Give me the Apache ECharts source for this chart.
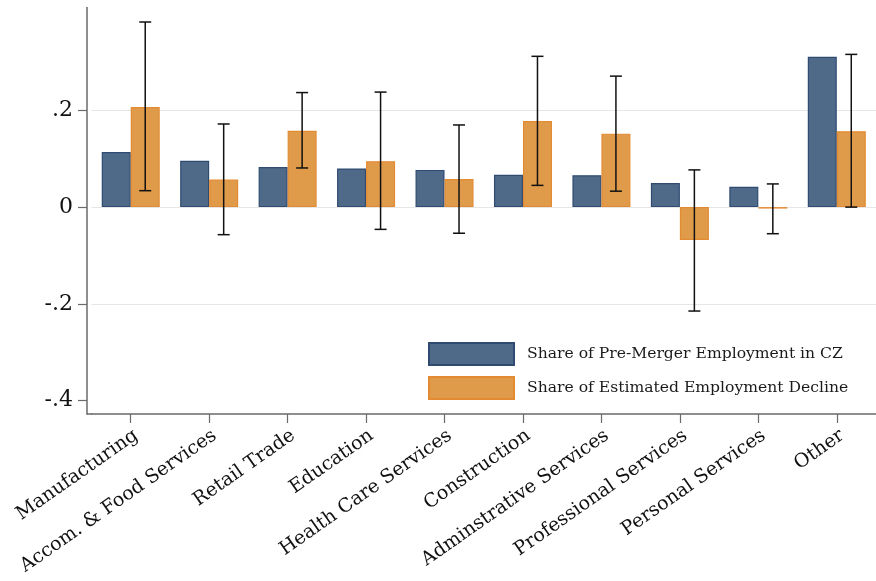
<!DOCTYPE html>
<html><head><meta charset="utf-8">
<script src="https://cdn.jsdelivr.net/npm/echarts@6/dist/echarts.min.js"></script>
<style>html,body{margin:0;padding:0;background:#fff}#c{width:876px;height:581px}</style>
</head><body><div id="c"></div>
<script>
const categories = ['Manufacturing','Accom. & Food Services','Retail Trade','Education','Health Care Services','Construction','Adminstrative Services','Professional Services','Personal Services','Other'];
const preMergerShare = [0.114,0.096,0.083,0.080,0.077,0.067,0.066,0.050,0.042,0.311];
const declineShare = [0.207,0.057,0.158,0.095,0.058,0.178,0.152,-0.068,-0.003,0.157];
const ciLow = [0.034,-0.057,0.081,-0.046,-0.054,0.045,0.033,-0.215,-0.055,0.000];
const ciHigh = [0.383,0.172,0.237,0.238,0.170,0.312,0.271,0.077,0.048,0.316];
const yTicks = [-0.4,-0.2,0,0.2];
const gridValues = [-0.2,0,0.2];
const seriesNames = ['Share of Pre-Merger Employment in CZ','Share of Estimated Employment Decline'];

const FONT = 'DejaVu Serif';
const BW = 29;
const chart = echarts.init(document.getElementById('c'));
const fmt = v => { if (Math.abs(v) < 1e-9) return '0'; let s = String(Math.round(v*10)/10); return s.replace('0.', '.'); };

chart.setOption({
  animation: false,
  grid: { left: 91.5, right: -4.4, top: 7.5, bottom: 167, containLabel: false },
  graphic: [{ type: 'line', shape: { x1: 86.5, y1: 414, x2: 92, y2: 414 }, style: { stroke: '#6a6a6a', lineWidth: 1.5 }, silent: true }],
  legend: {
    orient: 'vertical', left: 428, top: 342, itemWidth: 85, itemHeight: 22, itemGap: 10, padding: 0,
    icon: 'rect',
    textStyle: { fontFamily: FONT, fontSize: 15.6, color: '#1a1a1a', padding: [0,0,0,8] },
    data: seriesNames
  },
  xAxis: {
    type: 'category', data: categories, boundaryGap: true,
    axisLine: { show: true, onZero: false, lineStyle: { color: '#6a6a6a', width: 1.5 } },
    axisTick: { show: true, alignWithLabel: true, length: 9, lineStyle: { color: '#6a6a6a', width: 1.2 } },
    axisLabel: { rotate: 35, interval: 0, margin: 12, verticalAlign: 'top', fontFamily: FONT, fontSize: 19, color: '#111' },
    splitLine: { show: false }
  },
  yAxis: {
    type: 'value', min: -0.428, max: 0.413, offset: 4.5,
    axisLine: { show: true, onZero: false, lineStyle: { color: '#6a6a6a', width: 1.5 } },
    axisTick: { show: true, length: 9, customValues: yTicks, lineStyle: { color: '#6a6a6a', width: 1.2 } },
    axisLabel: { customValues: yTicks, formatter: fmt, margin: 14, fontFamily: FONT, fontSize: 22, color: '#111' },
    splitLine: { show: false }
  },
  series: [
    {
      type: 'line', name: 'grid', data: [], z: 1, silent: true,
      markLine: {
        silent: true, symbol: 'none', label: { show: false }, animation: false, z: 1,
        lineStyle: { color: '#e6e6e6', width: 1.2, type: 'solid' },
        data: gridValues.map(v => ({ yAxis: v }))
      }
    },
    {
      name: seriesNames[0], type: 'bar', data: preMergerShare, barWidth: BW, barGap: '0%',
      itemStyle: { color: '#4f6a89', borderColor: '#2f4b72', borderWidth: 1.2 },
      z: 3
    },
    {
      name: seriesNames[1], type: 'bar', data: declineShare, barWidth: BW,
      itemStyle: { color: '#df9b4a', borderColor: '#e38b32', borderWidth: 1.2 },
      z: 3
    },
    {
      type: 'custom', name: 'ci', data: categories.map((c,i) => [i, ciLow[i], ciHigh[i]]),
      z: 5, silent: true,
      renderItem: function (params, api) {
        const i = api.value(0);
        const lo = api.coord([i, api.value(1)]);
        const hi = api.coord([i, api.value(2)]);
        const x = lo[0] + BW/2;
        const cap = 6;
        const st = { stroke: '#111', lineWidth: 1.5 };
        return { type: 'group', children: [
          { type: 'line', shape: { x1: x, y1: lo[1], x2: x, y2: hi[1] }, style: st },
          { type: 'line', shape: { x1: x-cap, y1: lo[1], x2: x+cap, y2: lo[1] }, style: st },
          { type: 'line', shape: { x1: x-cap, y1: hi[1], x2: x+cap, y2: hi[1] }, style: st }
        ]};
      }
    }
  ]
});
</script></body></html>
